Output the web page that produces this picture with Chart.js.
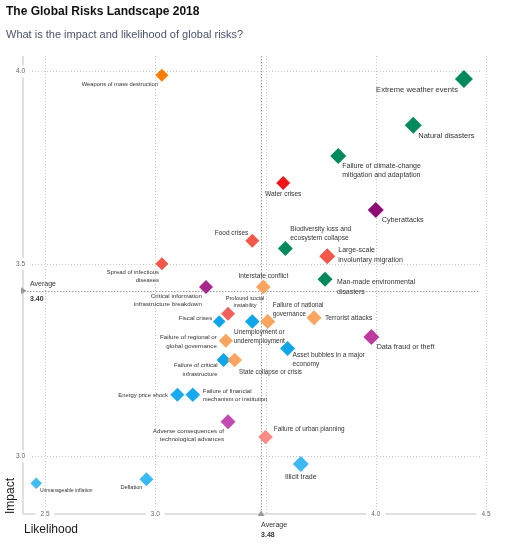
<!DOCTYPE html>
<html lang="en">
<head>
    <meta charset="UTF-8">
    <title>The Global Risks Landscape 2018</title>
    <script src="https://cdn.jsdelivr.net/npm/chart.js"></script>
    <style>
        body { margin: 0; background: #fff; font-family: 'Liberation Sans', Arial, sans-serif; }
        #wrap { position: relative; width: 507px; height: 553px; }
        #wrap canvas { position: absolute; left: 0; top: 0; }
        h1 { position: absolute; left: 6px; top: 4px; margin: 0; font-size: 12px; font-weight: bold; color: #111; }
        h2 { position: absolute; left: 6px; top: 28px; margin: 0; font-size: 11px; font-weight: normal; color: #4d5270; }
    </style>
</head>
<body>
<div id="wrap">
    <canvas id="risks" width="507" height="553"></canvas>
    <h1>The Global Risks Landscape 2018</h1>
    <h2>What is the impact and likelihood of global risks?</h2>
</div>

<script>
    // risk names, likelihood (x) and impact (y)
    const riskNames = [
        'Weapons of mass destruction', 'Extreme weather events', 'Natural disasters',
        'Failure of climate-change\nmitigation and adaptation', 'Water crises', 'Cyberattacks',
        'Biodiversity loss and\necosystem collapse', 'Food crises', 'Large-scale\ninvoluntary migration',
        'Spread of infectious\ndiseases', 'Man-made environmental\ndisasters', 'Interstate conflict',
        'Critical information\ninfrastructure breakdown', 'Profound social\ninstability', 'Fiscal crises',
        'Unemployment or\nunderemployment', 'Failure of national\ngovernance', 'Terrorist attacks',
        'Data fraud or theft', 'Failure of regional or\nglobal governance', 'Asset bubbles in a major\neconomy',
        'Failure of critical\ninfrastructure', 'State collapse or crisis', 'Energy price shock',
        'Failure of financial\nmechanism or institution', 'Adverse consequences of\ntechnological advances',
        'Failure of urban planning', 'Illicit trade', 'Deflation', 'Unmanageable inflation'
    ];
    const likelihood = [
        3.03, 4.40, 4.17, 3.83, 3.58, 4.00, 3.59, 3.44, 3.78, 3.03,
        3.77, 3.49, 3.23, 3.33, 3.29, 3.44, 3.51, 3.72, 3.98, 3.32,
        3.60, 3.31, 3.36, 3.10, 3.17, 3.33, 3.50, 3.66, 2.96, 2.46
    ];
    const impact = [
        3.99, 3.98, 3.86, 3.78, 3.71, 3.64, 3.54, 3.56, 3.52, 3.50,
        3.46, 3.44, 3.44, 3.37, 3.35, 3.35, 3.35, 3.36, 3.31, 3.30,
        3.28, 3.25, 3.25, 3.16, 3.16, 3.09, 3.05, 2.98, 2.94, 2.93
    ];

    const xGrid = [2.5, 3.0, 3.5, 4.0, 4.5];
    const xTickLabels = ['2.5', '3.0', '', '4.0', '4.5'];
    const yGrid = [3.0, 3.5, 4.0];
    const yTickLabels = ['3.0', '3.5', '4.0'];

    const avgLikelihood = 3.48;
    const avgImpact = 3.43;
    const avgText = ['3.48', '3.40'];

    // styles
    const pointColors = [
        '#ff7d00', '#00895a', '#00895a', '#00895a', '#f01414', '#8e0a74',
        '#00895a', '#f5574a', '#f5574a', '#f5574a', '#00895a', '#f9a55f',
        '#a6288d', '#f4605a', '#0ea5e9', '#0ea5e9', '#f9a55f', '#f9a55f',
        '#bb3b9f', '#f9a55f', '#0ea5e9', '#0ea5e9', '#f9a55f', '#19a9ef',
        '#19a9ef', '#c24cb0', '#ff8c85', '#3dbaf5', '#3cb8f2', '#44bcf3'
    ];
    const pointSizes = [
        6.5, 9, 8.5, 8, 7, 8, 7.5, 7, 8, 6.5, 7.5, 7.3, 7, 7, 6.3,
        7.3, 7.5, 7.5, 8, 7, 7.5, 7, 7.3, 7, 7.3, 7.5, 7.3, 8, 7, 5.8
    ];
    const labelSizes = [
        5.8, 7.6, 7.5, 7, 6.6, 7.2, 6.7, 6.5, 7, 5.9, 6.9, 6.6, 6.2, 5.6, 6.1,
        6.4, 6.4, 6.7, 7.2, 6.2, 6.6, 6, 6.3, 5.85, 6, 6.2, 6.4, 7, 5.6, 5
    ];
    // label offset from its point: [dx, dy of first line, align]
    const labelPlace = [
        [-4, 9, 'right'], [-6, 11, 'right'], [5, 11, 'left'], [4, 10, 'left'], [0, 11, 'center'],
        [6, 10, 'left'], [5, -19.5, 'left'], [-4, -8, 'right'], [11, -6, 'left'], [-3, 9, 'right'],
        [12, 3.3, 'left'], [0, -10.5, 'center'], [-4, 9.4, 'right'], [17, -15.7, 'center'], [-7, -3.4, 'right'],
        [7, 10.7, 'center'], [5, -16, 'left'], [11, 0, 'left'], [5.3, 10.3, 'left'], [-9, -3.3, 'right'],
        [5, 6.3, 'left'], [-6, 5.7, 'right'], [4.3, 12, 'left'], [-9.4, 0.6, 'right'], [10, -3, 'left'],
        [-4, 9.3, 'right'], [8.3, -7.7, 'left'], [0, 12.7, 'center'], [-4, 8.3, 'right'], [3.7, 7.3, 'left']
    ];

    const FONT = "'Liberation Sans', Arial, sans-serif";

    const axesPlugin = {
        id: 'axesPlugin',
        beforeDatasetsDraw(chart) {
            const { ctx, chartArea: a, scales: { x, y } } = chart;
            const line = (x1, y1, x2, y2) => { ctx.beginPath(); ctx.moveTo(x1, y1); ctx.lineTo(x2, y2); ctx.stroke(); };
            ctx.save();

            // dotted grid
            ctx.strokeStyle = '#c8c8c8';
            ctx.lineWidth = 1;
            ctx.setLineDash([1, 2]);
            xGrid.forEach(v => {
                const px = Math.round(x.getPixelForValue(v)) + 0.5;
                line(px, a.top, px, a.bottom);
            });
            yGrid.forEach(v => {
                const py = Math.round(y.getPixelForValue(v)) + 0.5;
                line(a.left + 9, py, a.right - 6, py);
            });

            // average lines
            ctx.strokeStyle = '#9c9c9c';
            ctx.setLineDash([1.5, 1.5]);
            const ax = Math.round(x.getPixelForValue(avgLikelihood)) + 0.5;
            const ay = Math.round(y.getPixelForValue(avgImpact)) + 0.5;
            line(ax, a.top, ax, a.bottom);
            line(a.left + 4, ay, a.right - 6, ay);

            // axis lines
            ctx.setLineDash([]);
            ctx.strokeStyle = '#d6d6d6';
            ctx.lineWidth = 1.5;
            line(a.left, a.top, a.left, a.bottom);
            line(a.left, a.bottom, a.right, a.bottom);

            // tick labels sitting on the axis lines
            ctx.font = '6.5px ' + FONT;
            ctx.textBaseline = 'middle';
            ctx.textAlign = 'center';
            xGrid.forEach((v, i) => {
                if (!xTickLabels[i]) return;
                const px = x.getPixelForValue(v);
                const w = ctx.measureText(xTickLabels[i]).width;
                ctx.fillStyle = '#fff';
                ctx.fillRect(px - w / 2 - 5, a.bottom - 4, w + 10, 8);
                ctx.fillStyle = '#666';
                ctx.fillText(xTickLabels[i], px, a.bottom);
            });
            yGrid.forEach((v, i) => {
                const py = y.getPixelForValue(v);
                ctx.fillStyle = '#fff';
                ctx.fillRect(a.left - 9, py - 6, 14, 12);
                ctx.fillStyle = '#666';
                ctx.fillText(yTickLabels[i], a.left - 2.5, py);
            });
            ctx.restore();
        },
        afterDatasetsDraw(chart) {
            const { ctx, chartArea: a, scales: { x, y } } = chart;
            ctx.save();
            ctx.textBaseline = 'middle';

            // risk labels
            ctx.fillStyle = '#333';
            riskNames.forEach((name, i) => {
                const px = x.getPixelForValue(likelihood[i]);
                const py = y.getPixelForValue(impact[i]);
                const [dx, dy, align] = labelPlace[i];
                const size = labelSizes[i];
                ctx.font = size + 'px ' + FONT;
                ctx.textAlign = align;
                name.split('\n').forEach((ln, k) => {
                    ctx.fillText(ln, px + dx, py + dy + k * size * 1.35);
                });
            });

            // average markers
            const ax = x.getPixelForValue(avgLikelihood);
            const ay = y.getPixelForValue(avgImpact);
            ctx.fillStyle = '#999';
            ctx.beginPath();
            ctx.moveTo(a.left - 2, ay - 3.5);
            ctx.lineTo(a.left + 3.5, ay);
            ctx.lineTo(a.left - 2, ay + 3.5);
            ctx.closePath();
            ctx.fill();
            ctx.beginPath();
            ctx.moveTo(ax - 3.5, a.bottom + 2);
            ctx.lineTo(ax, a.bottom - 3.5);
            ctx.lineTo(ax + 3.5, a.bottom + 2);
            ctx.closePath();
            ctx.fill();

            ctx.textAlign = 'left';
            ctx.fillStyle = '#333';
            ctx.font = '7px ' + FONT;
            ctx.fillText('Average', a.left + 7, ay - 7);
            ctx.fillText('Average', ax, a.bottom + 11);
            ctx.font = 'bold 7px ' + FONT;
            ctx.fillText(avgText[1], a.left + 7, ay + 8);
            ctx.fillText(avgText[0], ax, a.bottom + 21);

            // axis titles
            ctx.fillStyle = '#1a1a1a';
            ctx.font = '12px ' + FONT;
            ctx.fillText('Likelihood', a.left + 1, a.bottom + 16);
            ctx.translate(11, a.bottom - 18);
            ctx.rotate(-Math.PI / 2);
            ctx.textAlign = 'center';
            ctx.fillText('Impact', 0, 0);
            ctx.restore();
        }
    };

    new Chart(document.getElementById('risks'), {
        type: 'scatter',
        data: {
            datasets: [{
                label: 'Global risks',
                data: likelihood.map((v, i) => ({ x: v, y: impact[i] })),
                backgroundColor: pointColors,
                pointStyle: 'rectRot',
                pointRadius: pointSizes,
                pointHoverRadius: pointSizes,
                borderWidth: 0
            }]
        },
        options: {
            responsive: false,
            animation: false,
            layout: { padding: { left: 23, right: 21, top: 56, bottom: 39 } },
            plugins: { legend: { display: false }, tooltip: { enabled: false } },
            scales: {
                x: { type: 'linear', min: 2.4, max: 4.5, display: false },
                y: { type: 'linear', min: 2.85, max: 4.04, display: false }
            }
        },
        plugins: [axesPlugin]
    });
</script>
</body>
</html>
